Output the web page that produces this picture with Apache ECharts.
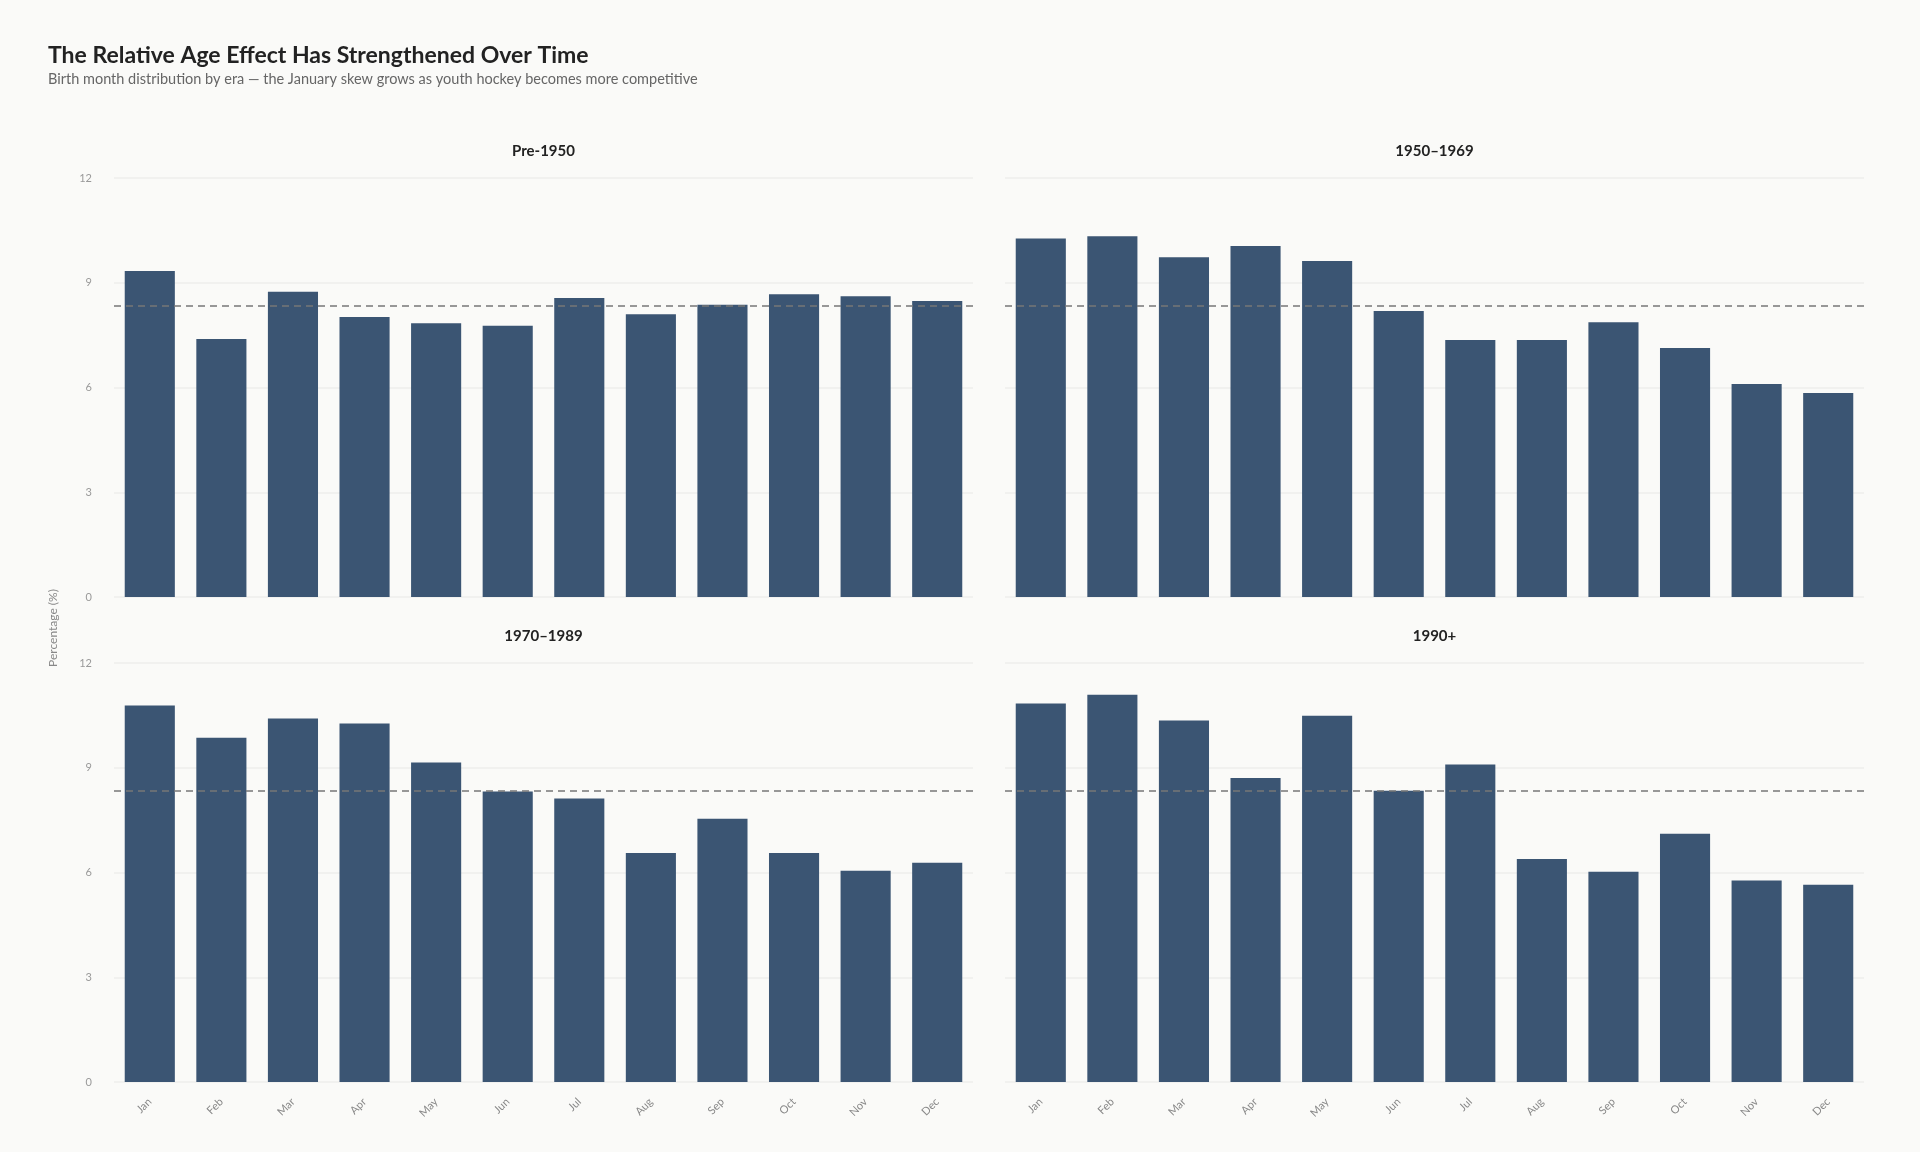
<!DOCTYPE html>
<html>
<head>
<meta charset="utf-8">
<title>Relative Age Effect by Era</title>
<script src="https://cdn.jsdelivr.net/npm/echarts@6/dist/echarts.min.js"></script>
<style>
  html, body { margin: 0; padding: 0; background: #fafaf8; }
  #chart { width: 1920px; height: 1152px; }
</style>
</head>
<body>
<div id="chart"></div>
<script>
// months on the x axis
var months = ['Jan', 'Feb', 'Mar', 'Apr', 'May', 'Jun', 'Jul', 'Aug', 'Sep', 'Oct', 'Nov', 'Dec'];

// share of players born in each month (%)
var pre1950 = [9.34, 7.39, 8.74, 8.02, 7.84, 7.77, 8.56, 8.10, 8.37, 8.67, 8.61, 8.48];
var era1950 = [10.27, 10.33, 9.73, 10.05, 9.62, 8.19, 7.36, 7.36, 7.87, 7.13, 6.10, 5.84];
var era1970 = [10.78, 9.86, 10.41, 10.27, 9.15, 8.32, 8.12, 6.56, 7.54, 6.56, 6.05, 6.28];
var era1990 = [10.84, 11.09, 10.35, 8.71, 10.49, 8.34, 9.09, 6.39, 6.02, 7.11, 5.77, 5.65];

var eraNames = ['Pre-1950', '1950\u20131969', '1970\u20131989', '1990+'];
var eraData = [pre1950, era1950, era1970, era1990];

// expected share if births were spread evenly
var uniformLine = 100 / 12;

var yTicks = [0, 3, 6, 9, 12];

var FONT = 'Lato, "Open Sans", sans-serif';
var BAR = '#3b5573';

// panel boxes (left, top) – every panel is the same size
var panels = [
  { left: 114, top: 178 },
  { left: 1005, top: 178 },
  { left: 114, top: 663 },
  { left: 1005, top: 663 }
];
var PW = 859, PH = 419;

var grids = [], xAxes = [], yAxes = [], series = [];
var titles = [
  {
    text: 'The Relative Age Effect Has Strengthened Over Time',
    left: 48, top: 44, padding: 0,
    textStyle: { fontFamily: FONT, fontSize: 23, fontWeight: 'bold', color: '#222' }
  },
  {
    text: 'Birth month distribution by era \u2014 the January skew grows as youth hockey becomes more competitive',
    left: 48, top: 72, padding: 0,
    textStyle: { fontFamily: FONT, fontSize: 14.5, fontWeight: 'normal', color: '#666' }
  }
];

for (var i = 0; i < 4; i++) {
  var p = panels[i];
  var isLeft = (i % 2 === 0);
  var isBottom = (i >= 2);

  grids.push({ left: p.left, top: p.top, width: PW, height: PH });

  titles.push({
    text: eraNames[i],
    left: p.left + PW / 2,
    top: p.top - 34,
    padding: 0,
    textAlign: 'center',
    textStyle: { fontFamily: FONT, fontSize: 15, fontWeight: 'bold', color: '#222' }
  });

  xAxes.push({
    type: 'category',
    gridIndex: i,
    data: months,
    axisLine: { show: false },
    axisTick: { show: false },
    axisLabel: {
      show: isBottom,
      rotate: 45,
      margin: 18,
      fontFamily: FONT,
      fontSize: 11,
      color: '#888'
    }
  });

  yAxes.push({
    type: 'value',
    gridIndex: i,
    min: yTicks[0],
    max: yTicks[yTicks.length - 1],
    interval: 3,
    axisLine: { show: false },
    axisTick: { show: false },
    axisLabel: {
      show: isLeft,
      margin: 22,
      fontFamily: FONT,
      fontSize: 11,
      color: '#999'
    },
    splitLine: { lineStyle: { color: '#eeeeec', width: 1.5 } }
  });

  series.push({
    type: 'bar',
    name: eraNames[i],
    xAxisIndex: i,
    yAxisIndex: i,
    data: eraData[i],
    barWidth: '70%',
    itemStyle: { color: BAR },
    silent: true,
    markLine: {
      silent: true,
      symbol: 'none',
      label: { show: false },
      lineStyle: { color: '#777', type: [7, 5], width: 1.5 },
      data: [{ yAxis: uniformLine }]
    }
  });
}

var myChart = echarts.init(document.getElementById('chart'));
myChart.setOption({
  backgroundColor: '#fafaf8',
  animation: false,
  title: titles,
  grid: grids,
  xAxis: xAxes,
  yAxis: yAxes,
  series: series,
  graphic: [{
    // shared y axis name, centred between the two rows
    type: 'text',
    x: 53,
    y: 628,
    rotation: Math.PI / 2,
    style: {
      text: 'Percentage (%)',
      fontFamily: FONT,
      fontSize: 12,
      fill: '#888',
      align: 'center',
      verticalAlign: 'middle'
    }
  }]
});
</script>
</body>
</html>
